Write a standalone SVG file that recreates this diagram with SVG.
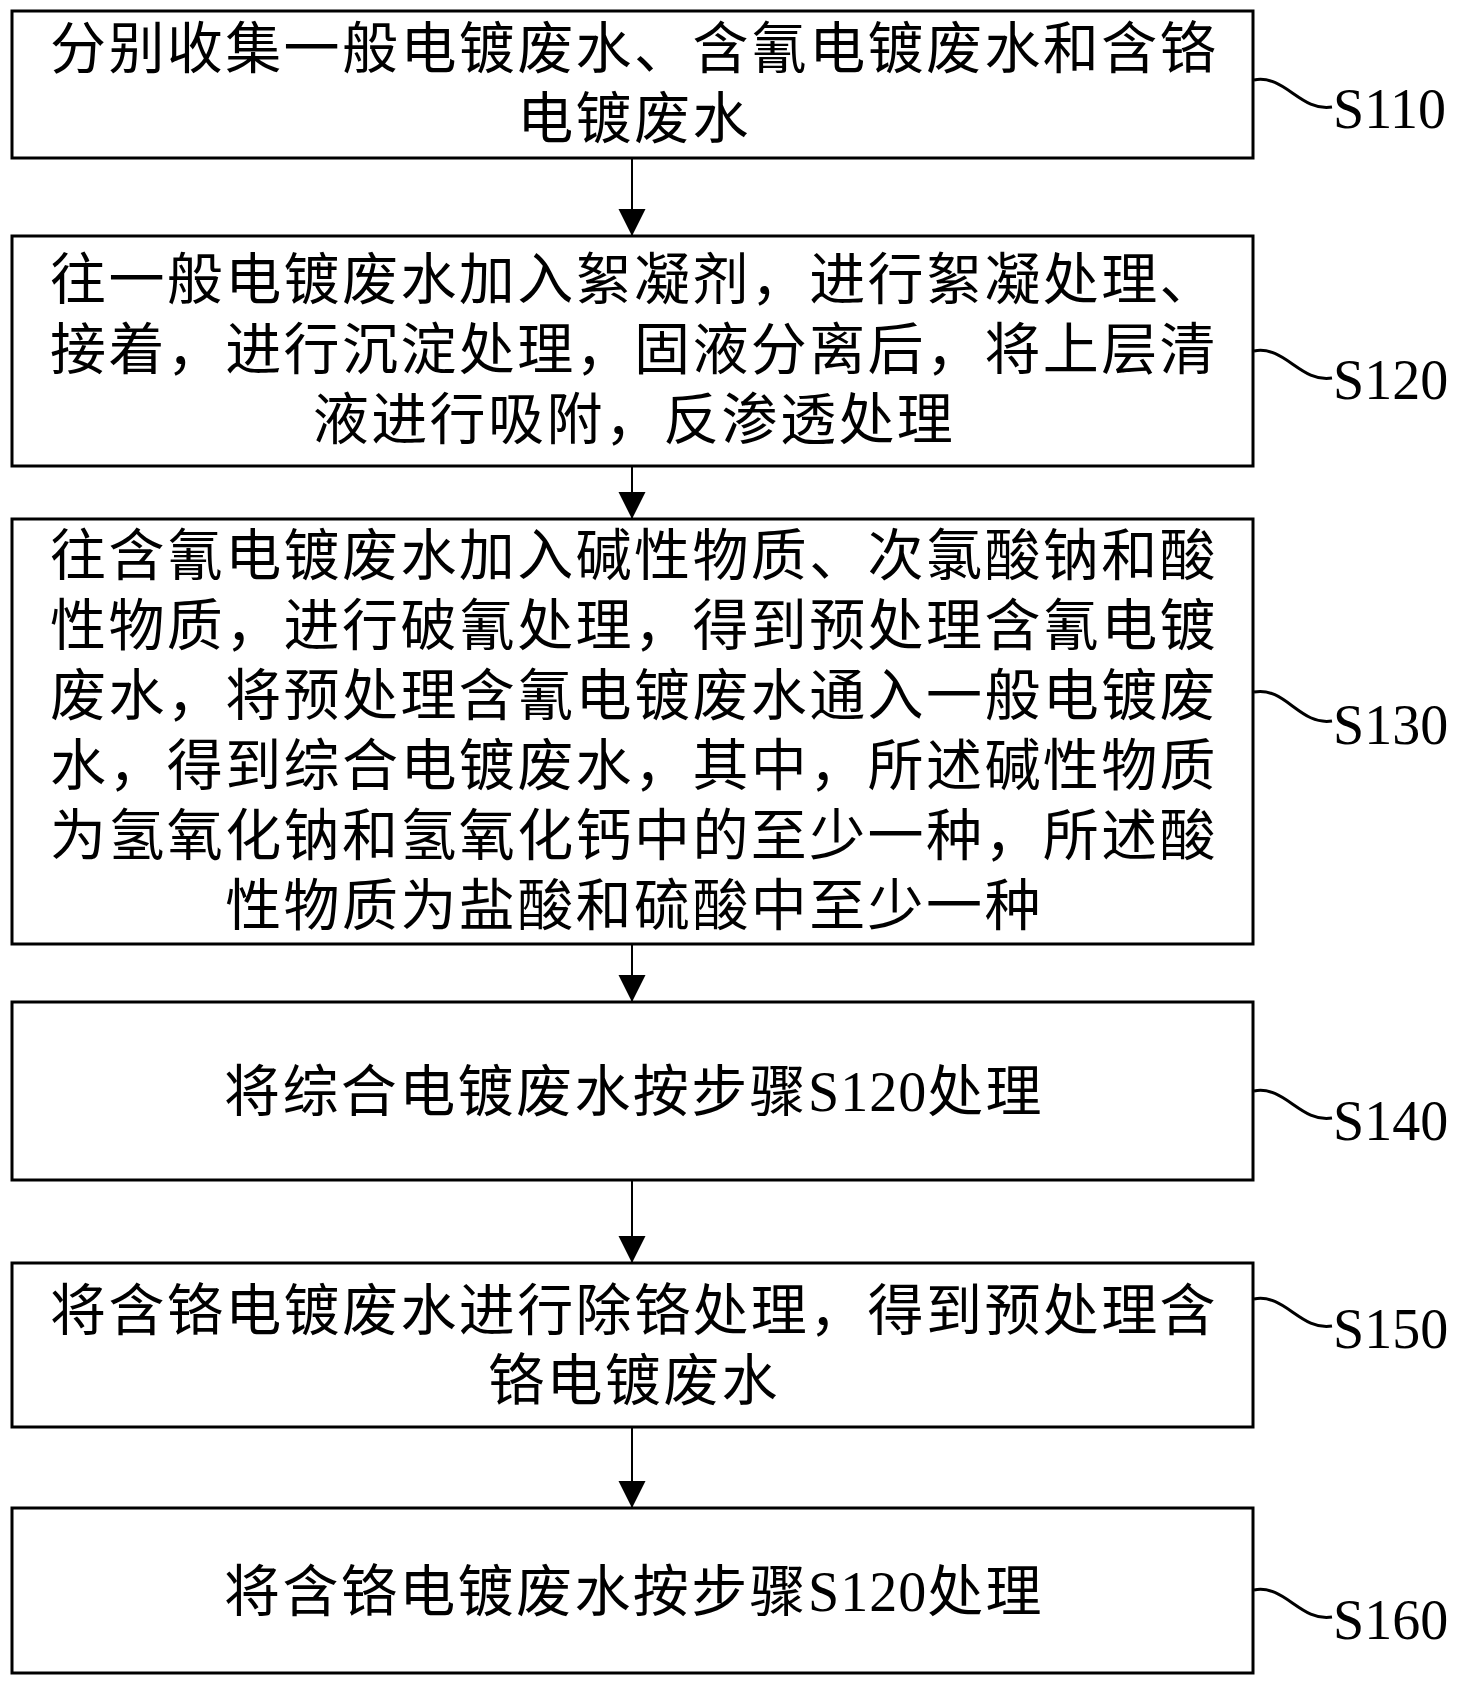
<svg xmlns="http://www.w3.org/2000/svg" width="1461" height="1689" viewBox="0 0 1461 1689">
<style>
.box{fill:#fff;stroke:#000;stroke-width:3}
.t{font-family:'Liberation Serif','Noto Sans CJK SC',serif;font-size:56px;letter-spacing:2.4px;text-anchor:middle;fill:#000}
.lat{letter-spacing:1px}
.lbl{font-family:'Liberation Serif',serif;font-size:56px;fill:#000}
.lead{fill:none;stroke:#000;stroke-width:3}
.arr{stroke:#000;stroke-width:2;fill:none}
</style>
<defs>
<marker id="ah" markerUnits="userSpaceOnUse" markerWidth="28" markerHeight="28" refX="27" refY="13.5" orient="auto" viewBox="0 0 28 28">
<path d="M0,0 L27,13.5 L0,27 z" fill="#000"/>
</marker>
</defs>
<rect width="1461" height="1689" fill="#fff"/>
<g id="connectors">
<line class="arr" x1="632" y1="159" x2="632" y2="236" marker-end="url(#ah)"/>
<line class="arr" x1="632" y1="467" x2="632" y2="519" marker-end="url(#ah)"/>
<line class="arr" x1="632" y1="945" x2="632" y2="1002" marker-end="url(#ah)"/>
<line class="arr" x1="632" y1="1181" x2="632" y2="1263" marker-end="url(#ah)"/>
<line class="arr" x1="632" y1="1428" x2="632" y2="1508" marker-end="url(#ah)"/>
</g>
<g id="S110">
<rect class="box" x="12" y="11" width="1241" height="147"/>
<text class="t" x="634" y="67.5">分别收集一般电镀废水、含氰电镀废水和含铬</text>
<text class="t" x="634" y="137.5">电镀废水</text>
<path class="lead" d="M1254,80 C1285,74 1300,112 1332,107"/>
<text class="lbl" x="1333" y="128">S110</text>
</g>
<g id="S120">
<rect class="box" x="12" y="236" width="1241" height="230"/>
<text class="t" x="634" y="299">往一般电镀废水加入絮凝剂，进行絮凝处理、</text>
<text class="t" x="634" y="369">接着，进行沉淀处理，固液分离后，将上层清</text>
<text class="t" x="634" y="439">液进行吸附，反渗透处理</text>
<path class="lead" d="M1254,351 C1285,345 1300,383 1332,378"/>
<text class="lbl" x="1333" y="399">S120</text>
</g>
<g id="S130">
<rect class="box" x="12" y="519" width="1241" height="425"/>
<text class="t" x="634" y="574.5">往含氰电镀废水加入碱性物质、次氯酸钠和酸</text>
<text class="t" x="634" y="644.5">性物质，进行破氰处理，得到预处理含氰电镀</text>
<text class="t" x="634" y="714.5">废水，将预处理含氰电镀废水通入一般电镀废</text>
<text class="t" x="634" y="784.5">水，得到综合电镀废水，其中，所述碱性物质</text>
<text class="t" x="634" y="854.5">为氢氧化钠和氢氧化钙中的至少一种，所述酸</text>
<text class="t" x="634" y="924.5">性物质为盐酸和硫酸中至少一种</text>
<path class="lead" d="M1254,692 C1285,686 1300,726 1332,721"/>
<text class="lbl" x="1333" y="744">S130</text>
</g>
<g id="S140">
<rect class="box" x="12" y="1002" width="1241" height="178"/>
<text class="t" x="634" y="1111">将综合电镀废水按步骤<tspan class="lat">S120</tspan>处理</text>
<path class="lead" d="M1254,1091 C1285,1085 1300,1123 1332,1118"/>
<text class="lbl" x="1333" y="1140">S140</text>
</g>
<g id="S150">
<rect class="box" x="12" y="1263" width="1241" height="164"/>
<text class="t" x="634" y="1330">将含铬电镀废水进行除铬处理，得到预处理含</text>
<text class="t" x="634" y="1400">铬电镀废水</text>
<path class="lead" d="M1254,1299 C1285,1293 1300,1331 1332,1326"/>
<text class="lbl" x="1333" y="1348">S150</text>
</g>
<g id="S160">
<rect class="box" x="12" y="1508" width="1241" height="165"/>
<text class="t" x="634" y="1611">将含铬电镀废水按步骤<tspan class="lat">S120</tspan>处理</text>
<path class="lead" d="M1254,1590 C1285,1584 1300,1622 1332,1617"/>
<text class="lbl" x="1333" y="1639">S160</text>
</g>
</svg>
